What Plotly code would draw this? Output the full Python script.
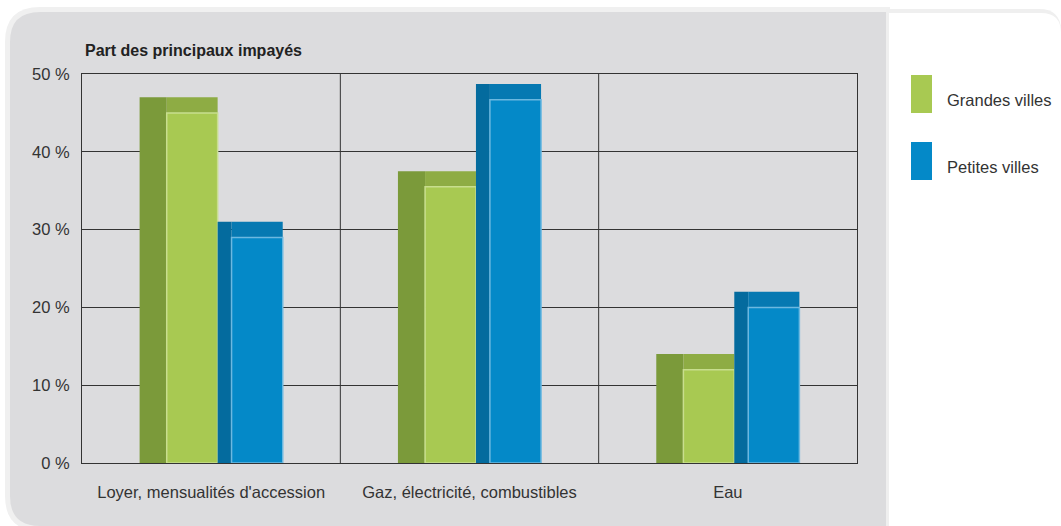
import plotly.graph_objects as go

categories = ["Loyer, mensualités d'accession", "Gaz, électricité, combustibles", "Eau"]
series_names = ["Grandes villes", "Petites villes"]
grandes_villes = [45.0, 35.5, 12.0]
petites_villes = [29.0, 46.7, 20.0]
y_tickvals = [0, 10, 20, 30, 40, 50]
y_ticktext = ["0 %", "10 %", "20 %", "30 %", "40 %", "50 %"]
chart_title = "Part des principaux impayés"

W, H = 1061, 526
ML, MR, MT, MB = 82, 204, 74, 63
PW, PH = W - ML - MR, H - MT - MB
FONT = "Liberation Sans Narrow, Arial Narrow, Liberation Sans, Arial, sans-serif"
DEPTH = 2.0


def px(x):
    return (x - ML) / PW


def py(y):
    return (H - MB - y) / PH


def rounded_rect(x0, y0, x1, y1, rtl=0, rtr=0, rbr=0, rbl=0):
    # pixel coords -> paper path
    def P(x, y):
        return f"{px(x):.5f},{py(y):.5f}"
    d = f"M {P(x0 + rtl, y0)} L {P(x1 - rtr, y0)} "
    if rtr:
        d += f"Q {P(x1, y0)} {P(x1, y0 + rtr)} "
    d += f"L {P(x1, y1 - rbr)} "
    if rbr:
        d += f"Q {P(x1, y1)} {P(x1 - rbr, y1)} "
    d += f"L {P(x0 + rbl, y1)} "
    if rbl:
        d += f"Q {P(x0, y1)} {P(x0, y1 - rbl)} "
    d += f"L {P(x0, y0 + rtl)} "
    if rtl:
        d += f"Q {P(x0, y0)} {P(x0 + rtl, y0)} "
    return d + "Z"


styles = [
    dict(front="#a8c952", side="#7b9a3a", top="#8eac44", edge="#c8de8e"),
    dict(front="#0489c8", side="#046b9e", top="#0679b2", edge="#6cb8e0"),
]
# x-geometry (category units) for each series: side face and front face
geom = [
    dict(side=(-0.277, -0.172), front=(-0.172, 0.025)),
    dict(side=(0.025, 0.079), front=(0.079, 0.277)),
]

fig = go.Figure()
for vals, name, st, g in zip([grandes_villes, petites_villes], series_names, styles, geom):
    sx0, sx1 = g["side"]
    fx0, fx1 = g["front"]
    fig.add_trace(go.Bar(
        x=categories, y=[v + DEPTH for v in vals], offset=sx0, width=sx1 - sx0,
        marker=dict(color=st["side"], line=dict(width=0)), showlegend=False, hoverinfo="skip"))
    fig.add_trace(go.Bar(
        x=categories, y=[DEPTH] * len(vals), base=vals, offset=fx0, width=fx1 - fx0,
        marker=dict(color=st["top"], line=dict(width=0)), showlegend=False, hoverinfo="skip"))
    fig.add_trace(go.Bar(
        x=categories, y=vals, offset=fx0, width=fx1 - fx0, name=name,
        marker=dict(color=st["front"], line=dict(color=st["edge"], width=1.5)),
        showlegend=False))

shapes = []
# outer soft shadow + gray panel
shapes.append(dict(type="path", xref="paper", yref="paper", layer="below",
                   path=rounded_rect(5, 7, 890, 531, rtl=35, rbl=35),
                   fillcolor="#f0f0f0", line=dict(width=0)))
shapes.append(dict(type="path", xref="paper", yref="paper", layer="below",
                   path=rounded_rect(10, 12, 888, 526, rtl=30, rbl=30),
                   fillcolor="#dcdcde", line=dict(width=0)))
# white legend panel
shapes.append(dict(type="path", xref="paper", yref="paper", layer="below",
                   path=rounded_rect(886, 9, 1061, 526, rtr=22),
                   fillcolor="#efefef", line=dict(width=0)))
shapes.append(dict(type="path", xref="paper", yref="paper", layer="below",
                   path=rounded_rect(889, 13, 1061, 526, rtr=20),
                   fillcolor="#ffffff", line=dict(width=0)))
# vertical category separators
for xv in [0.5, 1.5]:
    shapes.append(dict(type="line", xref="x", yref="paper", x0=xv, x1=xv, y0=0, y1=1,
                       layer="below", line=dict(color="#333333", width=1)))

annotations = [dict(text=f"<b>{chart_title}</b>", xref="paper", yref="paper",
                    x=px(83), y=py(50), xanchor="left", yanchor="middle", showarrow=False,
                    font=dict(family=FONT, size=16, color="#222222"))]

# custom legend
legend_y = [75, 142]
for name, st, ly in zip(series_names, styles, legend_y):
    shapes.append(dict(type="rect", xref="paper", yref="paper",
                       x0=px(911), x1=px(932), y0=py(ly), y1=py(ly + 38),
                       fillcolor=st["front"], line=dict(width=0)))
    annotations.append(dict(text=name, xref="paper", yref="paper", x=px(945), y=py(ly + 25),
                            xanchor="left", yanchor="middle", showarrow=False,
                            font=dict(family=FONT, size=16.5, color="#333333")))

fig.update_layout(
    width=W, height=H,
    margin=dict(l=ML, r=MR, t=MT, b=MB),
    paper_bgcolor="#ffffff",
    plot_bgcolor="rgba(0,0,0,0)",
    barmode="overlay",
    showlegend=False,
    shapes=shapes,
    annotations=annotations,
    font=dict(family=FONT, size=16.5, color="#333333"),
    xaxis=dict(range=[-0.5, 2.5], showgrid=False, showline=True, mirror=True,
               linecolor="#333333", linewidth=1, ticks="", ticklabelstandoff=14,
               tickfont=dict(family=FONT, size=16.5, color="#333333")),
    yaxis=dict(range=[0, 50], tickvals=y_tickvals, ticktext=y_ticktext,
               showgrid=True, gridcolor="#333333", gridwidth=1, zeroline=False,
               showline=True, mirror=True, linecolor="#333333", linewidth=1,
               ticks="", ticklabelstandoff=8,
               tickfont=dict(family=FONT, size=16.5, color="#333333")),
)

fig.write_html("out.html")
